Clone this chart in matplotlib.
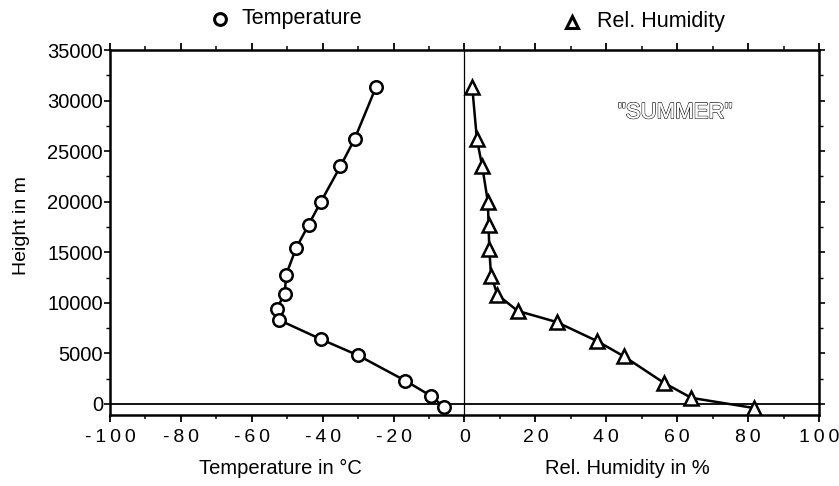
import matplotlib
matplotlib.use("Agg")
import matplotlib.pyplot as plt
from matplotlib.lines import Line2D
from matplotlib.ticker import MultipleLocator, FixedLocator, FixedFormatter
import matplotlib.patheffects as pe
import matplotlib.transforms as mtrans

plt.rcParams['font.family'] = ['Liberation Sans', 'DejaVu Sans']

# Summer profile: height (m) vs. temperature (deg C)
temp_height = [31300, 26200, 23500, 20000, 17700, 15400, 12800, 10900,
               9400, 8300, 6400, 4800, 2300, 800, -300]
temperature = [-25, -31, -35, -40.5, -44, -47.5, -50.3, -50.7,
               -53, -52.3, -40.5, -30, -16.7, -9.5, -5.8]

# Summer profile: height (m) vs. relative humidity (%)
hum_height = [31300, 26200, 23500, 20000, 17700, 15300, 12700, 10800,
              9200, 8100, 6200, 4700, 2100, 600, -400]
humidity = [2.2, 3.5, 5.0, 6.6, 6.8, 7.0, 7.5, 9.3,
            15, 26, 37.5, 45, 56.2, 64, 81.6]

x_ticks = [-100, -80, -60, -40, -20, 0, 20, 40, 60, 80, 100]
y_ticks = [0, 5000, 10000, 15000, 20000, 25000, 30000, 35000]

FS = 14.5

fig = plt.figure(figsize=(8.39, 4.86), dpi=100)
ax = fig.add_axes([0.1311, 0.146, 0.845, 0.751])

ax.set_xlim(-100, 100)
ax.set_ylim(-1100, 35000)

# reference lines at sea level and at the split between the two scales
ax.axhline(0, color='black', lw=1.3, zorder=1)
ax.axvline(0, color='black', lw=0.9, zorder=1)

ax.plot(temperature, temp_height, color='black', lw=1.8, marker='o',
        ms=9, mfc='white', mec='black', mew=1.8, zorder=3)
ax.plot(humidity, hum_height, color='black', lw=1.8, marker='^',
        ms=10, mfc='white', mec='black', mew=1.8, zorder=3)

for s in ax.spines.values():
    s.set_linewidth(1.8)

def spaced(v):
    return "\u2009".join(str(v))

ax.xaxis.set_major_locator(FixedLocator(x_ticks))
ax.xaxis.set_major_formatter(FixedFormatter([spaced(v) for v in x_ticks]))
ax.xaxis.set_minor_locator(MultipleLocator(10))
ax.yaxis.set_major_locator(FixedLocator(y_ticks))
ax.yaxis.set_minor_locator(MultipleLocator(2500))

ax.tick_params(axis='x', which='both', top=True, bottom=True, direction='out',
               labelsize=FS - 0.5, pad=5)
ax.tick_params(axis='x', which='major', length=5, width=1.3)
ax.tick_params(axis='x', which='minor', length=3, width=1.1)
ax.tick_params(axis='y', which='both', left=True, right=True, direction='out',
               labelsize=FS, pad=1)
ax.tick_params(axis='y', which='major', length=4, width=1.2)
ax.tick_params(axis='y', which='minor', length=3, width=1.0)

ax.set_ylabel("Height in m", fontsize=14)
ax.yaxis.set_label_coords(-0.113, 0.52)

# axis titles under each half
btrans = mtrans.blended_transform_factory(ax.transData, fig.transFigure)
ax.text(-52, 0.037, "Temperature in °C", transform=btrans, ha='center',
        va='center', fontsize=FS)
ax.text(46, 0.037, "Rel. Humidity in %", transform=btrans, ha='center',
        va='center', fontsize=FS)

# series keys above the plot
fig.add_artist(Line2D([0.2622], [0.961], transform=fig.transFigure, ls='none',
                      marker='o', ms=8.5, mfc='white', mec='black', mew=2.2))
fig.text(0.2884, 0.961, "Temperature", ha='left', va='center', fontsize=15.5)
fig.add_artist(Line2D([0.6818], [0.9547], transform=fig.transFigure, ls='none',
                      marker='^', ms=8.5, mfc='white', mec='black', mew=2.2))
fig.text(0.7116, 0.955, "Rel. Humidity", ha='left', va='center', fontsize=15.5)

ax.text(59.5, 28800, '"SUMMER"', ha='center', va='center', fontsize=16,
        color='white',
        path_effects=[pe.withStroke(linewidth=1.1, foreground='#222222'), pe.Normal()])

fig.savefig("out.png", dpi=100)
